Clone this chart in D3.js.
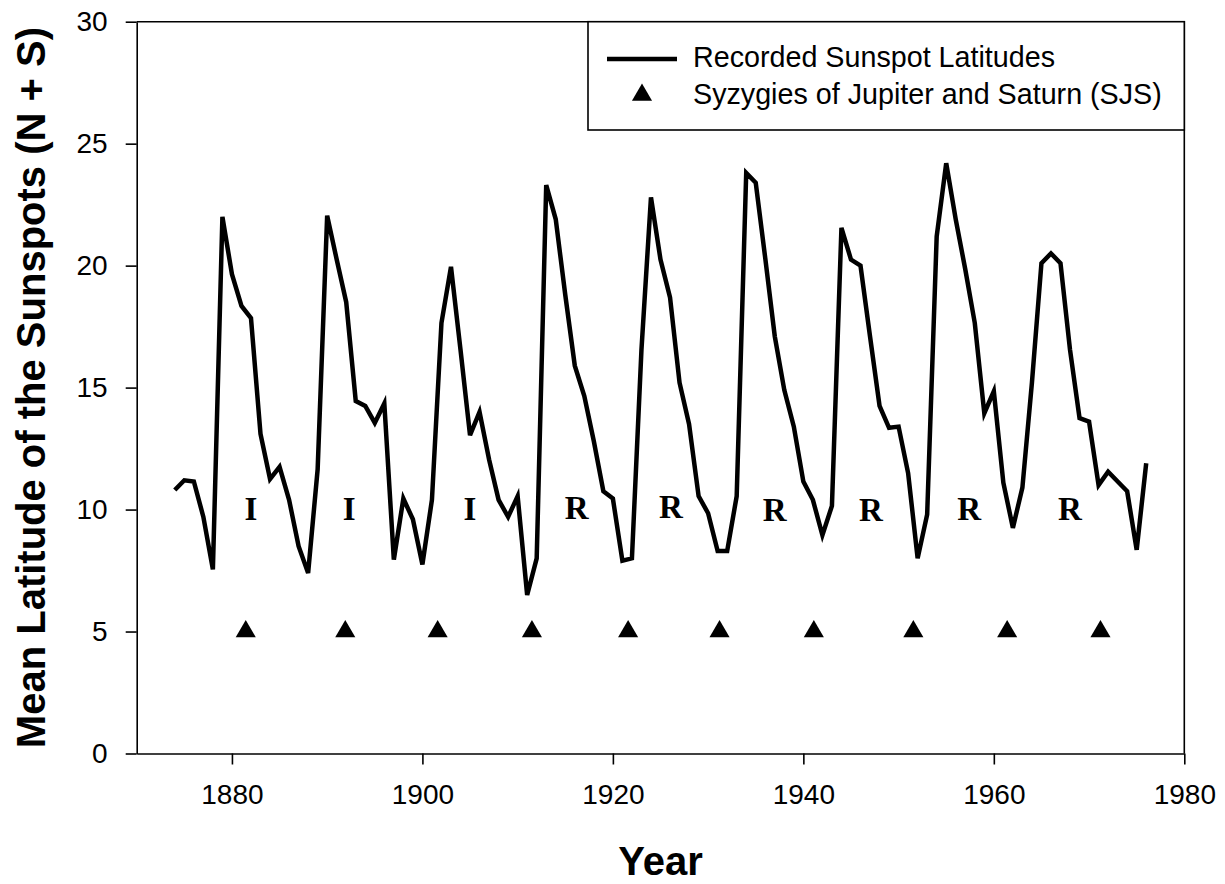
<!DOCTYPE html>
<html lang="en">

<head>
    <meta charset="UTF-8">
    <script src="https://d3js.org/d3.v7.min.js"></script>
    <title>Sunspot Latitudes</title>
    <style>
        body {
            margin: 0;
            background: white;
        }

        text {
            font-family: "Liberation Sans", Arial, sans-serif;
        }

        .axis path,
        .axis line {
            stroke: black;
            stroke-width: 1.6px;
        }

        .axis text {
            font-size: 28px;
            fill: black;
        }

        .cycle-label {
            font-family: "Liberation Serif", "Times New Roman", serif;
            font-weight: bold;
            font-size: 33px;
        }
    </style>
</head>

<body>
    <div id="chart"></div>
    <script>
        /*-------------------------------------------------------*/
        /*------------------------ Data -------------------------*/
        /*-------------------------------------------------------*/
        // years of the recorded sunspot latitudes
        const years = d3.range(1874, 1977)
        // mean latitude (N + S), one value per year
        const latitudes = [
            10.8, 11.2, 11.15, 9.7, 7.55, 22.0, 19.65, 18.35, 17.85, 13.1,
            11.25, 11.75, 10.4, 8.5, 7.4, 11.65, 22.05, 20.25, 18.5, 14.45,
            14.25, 13.55, 14.35, 7.95, 10.45, 9.6, 7.75, 10.4, 17.65, 19.95,
            16.55, 13.05, 14.0, 12.05, 10.4, 9.7, 10.55, 6.5, 8.0, 23.3,
            21.9, 18.8, 15.9, 14.65, 12.8, 10.75, 10.45, 7.9, 8.0, 16.55,
            22.8, 20.25, 18.7, 15.2, 13.5, 10.55, 9.85, 8.3, 8.3, 10.55,
            23.8, 23.4, 20.3, 17.1, 14.9, 13.4, 11.15, 10.4, 8.95, 10.15,
            21.55, 20.25, 20.0, 17.1, 14.25, 13.35, 13.4, 11.5, 8.0, 9.8,
            21.2, 24.2, 21.9, 19.85, 17.65, 13.95, 14.85, 11.1, 9.25, 10.9,
            15.2, 20.1, 20.5, 20.1, 16.55, 13.75, 13.6, 11.0, 11.55, 11.15,
            10.75, 8.35, 11.9
        ]
        // syzygies of Jupiter and Saturn (all drawn at latitude 5)
        const sjs_years = [1881.45, 1891.9, 1901.6, 1911.5, 1921.6, 1931.2, 1941.1, 1951.55, 1961.4, 1971.2]
        const sjs_level = 5
        // I / R labels
        const cycle_letters = ["I", "I", "I", "R", "R", "R", "R", "R", "R"]
        const cycle_years = [1882.0, 1892.3, 1905.0, 1916.2, 1926.1, 1937.0, 1947.1, 1957.4, 1968.0]
        const cycle_levels = [9.56, 9.56, 9.56, 9.6, 9.66, 9.52, 9.52, 9.56, 9.56]

        const x_ticks = [1880, 1900, 1920, 1940, 1960, 1980]
        const y_ticks = [0, 5, 10, 15, 20, 25, 30]
        const legend_labels = ["Recorded Sunspot Latitudes", "Syzygies of Jupiter and Saturn (SJS)"]

        /*-------------------------------------------------------*/
        /*------------------- Window setting --------------------*/
        /*-------------------------------------------------------*/
        const dims = { width: 1225, height: 884 }
        const margin = { left: 136.7, right: 1225 - 1184.3, top: 21.7, bottom: 884 - 753.5 }

        const svg = d3.select("#chart").append("svg")
            .attr("width", dims.width)
            .attr("height", dims.height)
            .style("display", "block")

        /*-------------------------------------------------------*/
        /*------------------------ Scales -----------------------*/
        /*-------------------------------------------------------*/
        const xScale = d3.scaleLinear()
            .domain([1870, 1980])
            .range([margin.left, dims.width - margin.right])

        const yScale = d3.scaleLinear()
            .domain([0, 30])
            .range([dims.height - margin.bottom, margin.top])

        /*-------------------------------------------------------*/
        /*------------------------ Axes -------------------------*/
        /*-------------------------------------------------------*/
        // frame top and right
        svg.append("path")
            .attr("d", `M${xScale(1870)},${yScale(30)}H${xScale(1980)}V${yScale(0)}`)
            .attr("fill", "none")
            .attr("stroke", "black")
            .attr("stroke-width", 1.6)

        svg.append("g")
            .attr("class", "axis")
            .attr("transform", `translate(0,${yScale(0)})`)
            .call(d3.axisBottom(xScale).tickValues(x_ticks).tickFormat(d3.format("d"))
                .tickSize(11).tickPadding(20).tickSizeOuter(0))

        svg.append("g")
            .attr("class", "axis")
            .attr("transform", `translate(${xScale(1870)},0)`)
            .call(d3.axisLeft(yScale).tickValues(y_ticks).tickSize(11).tickPadding(18).tickSizeOuter(0))

        // axis titles
        svg.append("text")
            .attr("x", (xScale(1870) + xScale(1980)) / 2)
            .attr("y", 875)
            .attr("text-anchor", "middle")
            .style("font-size", "40px")
            .style("font-weight", "bold")
            .text("Year")

        svg.append("text")
            .attr("transform", `translate(45,${(yScale(0) + yScale(30)) / 2}) rotate(-90)`)
            .attr("text-anchor", "middle")
            .style("font-size", "40px")
            .style("font-weight", "bold")
            .text("Mean Latitude of the Sunspots (N + S)")

        /*-------------------------------------------------------*/
        /*------------------------ Marks ------------------------*/
        /*-------------------------------------------------------*/
        const line = d3.line()
            .x((d, i) => xScale(years[i]))
            .y(d => yScale(d))

        svg.append("path")
            .datum(latitudes)
            .attr("d", line)
            .attr("fill", "none")
            .attr("stroke", "black")
            .attr("stroke-width", 4.5)
            .attr("stroke-linejoin", "miter")

        const triangle = d3.symbol().type(d3.symbolTriangle).size(175)

        svg.selectAll(".sjs")
            .data(sjs_years)
            .enter()
            .append("path")
            .attr("class", "sjs")
            .attr("d", triangle)
            .attr("transform", d => `translate(${xScale(d)},${yScale(sjs_level)})`)
            .attr("fill", "black")

        svg.selectAll(".cycle-label")
            .data(cycle_letters)
            .enter()
            .append("text")
            .attr("class", "cycle-label")
            .attr("x", (d, i) => xScale(cycle_years[i]))
            .attr("y", (d, i) => yScale(cycle_levels[i]))
            .attr("text-anchor", "middle")
            .text(d => d)

        /*-------------------------------------------------------*/
        /*------------------------ Legend -----------------------*/
        /*-------------------------------------------------------*/
        const legend = svg.append("g")

        legend.append("rect")
            .attr("x", 588)
            .attr("y", yScale(30))
            .attr("width", xScale(1980) - 588)
            .attr("height", 130 - yScale(30))
            .attr("fill", "white")
            .attr("stroke", "black")
            .attr("stroke-width", 1.6)

        legend.append("line")
            .attr("x1", 607)
            .attr("x2", 677)
            .attr("y1", 59)
            .attr("y2", 59)
            .attr("stroke", "black")
            .attr("stroke-width", 4.5)

        legend.append("path")
            .attr("d", triangle)
            .attr("transform", "translate(642,95)")
            .attr("fill", "black")

        legend.selectAll(".legend-text")
            .data(legend_labels)
            .enter()
            .append("text")
            .attr("class", "legend-text")
            .attr("x", 693)
            .attr("y", (d, i) => 67 + i * 36.5)
            .style("font-size", "28.7px")
            .text(d => d)
    </script>
</body>

</html>
